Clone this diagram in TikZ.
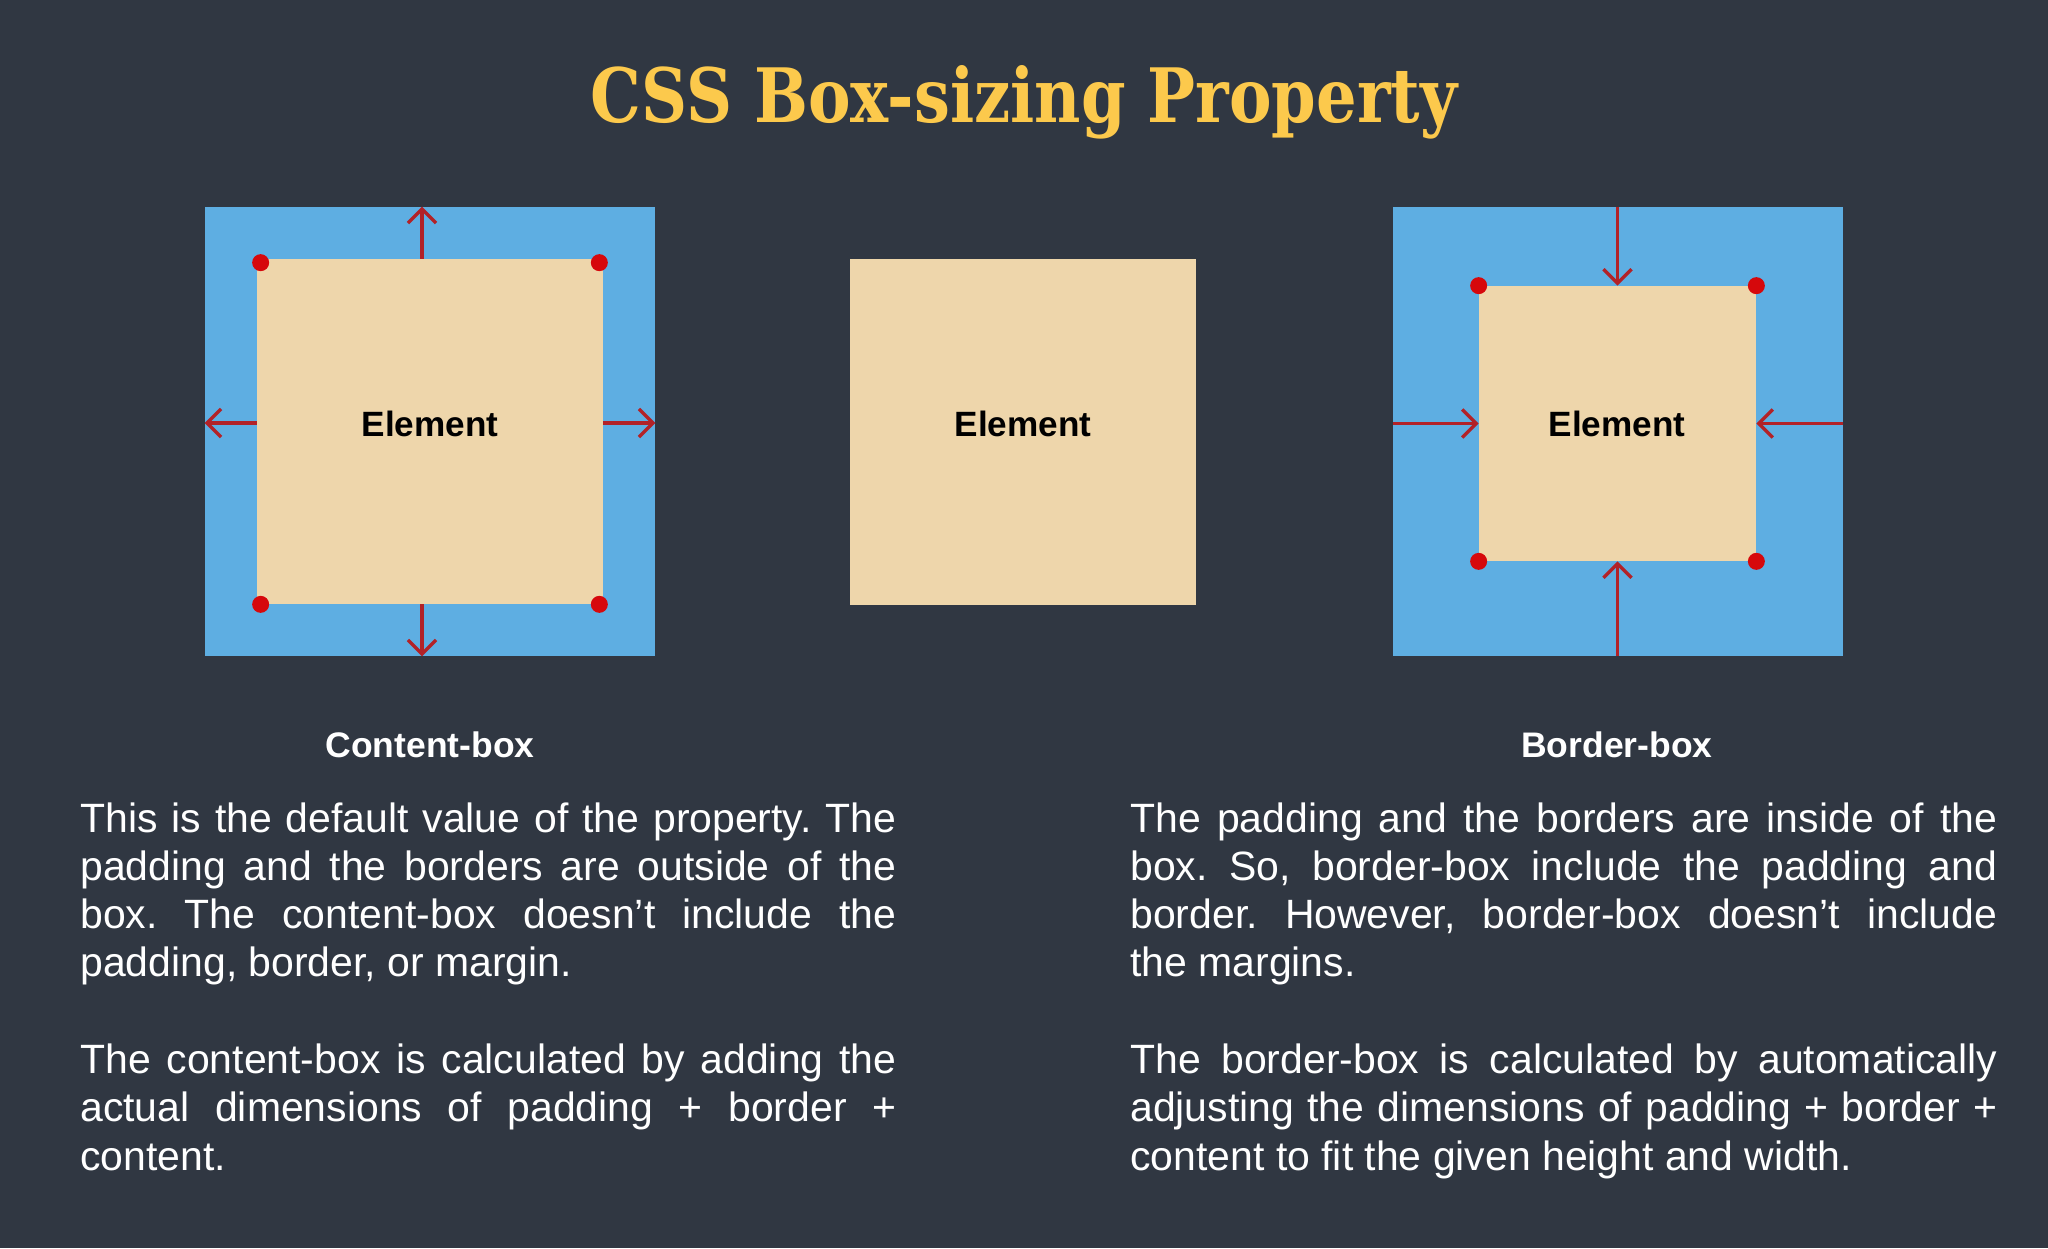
\documentclass[tikz,border=0pt]{standalone}
\usepackage{fontspec}
\setmainfont{Liberation Sans}
\newfontfamily\titlefont[FakeStretch=0.85]{DejaVu Serif}
\usetikzlibrary{arrows.meta, positioning}
\frenchspacing

\definecolor{slate}{RGB}{48,55,66}
\definecolor{padblue}{RGB}{94,174,226}
\definecolor{sand}{RGB}{238,214,171}
\definecolor{dotred}{RGB}{214,8,12}
\definecolor{arrred}{RGB}{178,34,40}
\definecolor{gold}{RGB}{252,201,76}

\begin{document}
\begin{tikzpicture}[
  padbox/.style    = {fill=padblue, minimum width=9cm, minimum height=8.98cm, inner sep=0},
  contbox/.style   = {fill=sand, inner sep=0},
  elem/.style      = {font=\bfseries\fontsize{20}{24}\selectfont, text=black, inner sep=0},
  boxlabel/.style  = {font=\bfseries\fontsize{20.2}{24}\selectfont, text=white, inner sep=0},
  para/.style      = {font=\fontsize{23.3}{27.5}\selectfont, text=white, inner sep=0, anchor=base west},
  cornerdot/.style = {fill=dotred},
  push/.style      = {draw=arrred, line width=1.9pt, -{Straight Barb[length=8pt, width=16pt]}},
]

\fill[slate] (0,0) rectangle (40.96,-24.96);
\node[font=\titlefont\bfseries\fontsize{42.7}{50}\selectfont, text=gold, anchor=base]
  (title) at (20.48,-2.45) {CSS Box-sizing Property};

% content-box: padding and border grow outwards
\node[padbox] (lout) at (8.60,-8.63) {};
\node[contbox, minimum width=6.92cm, minimum height=6.9cm] (lin) at (8.60,-8.63) {};
\draw[push] ([xshift=-1.6mm]lin.north) -- ([xshift=-1.6mm]lout.north);
\draw[push] ([xshift=-1.6mm]lin.south) -- ([xshift=-1.6mm]lout.south);
\draw[push] ([yshift=1.7mm]lin.west) -- ([yshift=1.7mm]lout.west);
\draw[push] ([yshift=1.7mm]lin.east) -- ([yshift=1.7mm]lout.east);
\foreach \a/\dx/\dy in {north west/1/-1, north east/-1/-1, south west/1/0, south east/-1/0}
  \fill[cornerdot] ([shift={(\dx*0.08,\dy*0.08)}]lin.\a) circle (0.17);
\node[elem, anchor=base] (ltxt) at (8.60,-8.72) {Element};

% plain element
\node[contbox, minimum width=6.92cm, minimum height=6.92cm] (mid) at (20.46,-8.64) {};
\node[elem, anchor=base] (mtxt) at (20.46,-8.72) {Element};

% border-box: padding and border pushed inwards
\node[padbox] (rout) at (32.36,-8.63) {};
\node[contbox, minimum width=5.54cm, minimum height=5.5cm] (rin) at (32.35,-8.47) {};
\draw[push] (rout.north -| rin.north) -- (rin.north);
\draw[push] (rout.south -| rin.south) -- (rin.south);
\draw[push] (rout.west |- rin.west) -- (rin.west);
\draw[push] (rout.east |- rin.east) -- (rin.east);
\foreach \a in {north west, north east, south west, south east}
  \fill[cornerdot] (rin.\a) circle (0.17);
\node[elem, anchor=base] (rtxt) at (32.34,-8.72) {Element};

\node[boxlabel, anchor=base] (lcap) at (8.60,-15.15) {Content-box};
\node[boxlabel, anchor=base] (rcap) at (32.34,-15.15) {Border-box};

\node[para] (ltext) at (1.60,-16.64) {\parbox[t]{16.32cm}{\tolerance=10000 \hyphenpenalty=10000
  This is the default value of the property. The\linebreak
  padding and the borders are outside of the\linebreak
  box. The content-box doesn’t include the\linebreak
  padding, border, or margin.\par\vspace{27.5pt}
  The content-box is calculated by adding the\linebreak
  actual dimensions of padding + border +\linebreak
  content.}};

\node[para] (rtext) at (22.60,-16.64) {\parbox[t]{17.34cm}{\tolerance=10000 \hyphenpenalty=10000
  The padding and the borders are inside of the\linebreak
  box. So, border-box include the padding and\linebreak
  border. However, border-box doesn’t include\linebreak
  the margins.\par\vspace{27.5pt}
  The border-box is calculated by automatically\linebreak
  adjusting the dimensions of padding + border +\linebreak
  content to fit the given height and width.}};

\end{tikzpicture}
\end{document}
